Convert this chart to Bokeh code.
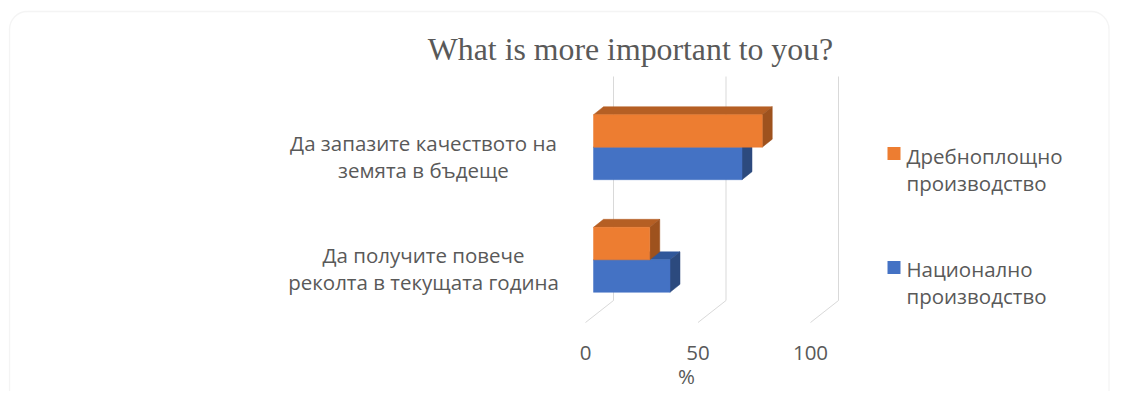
from bokeh.plotting import figure
from bokeh.models import Range1d, BoxAnnotation
from bokeh.core.properties import value
from bokeh.embed import file_html
from bokeh.resources import INLINE

# ---------------- data ----------------
categories = ["Да получите повече\nреколта в текущата година",
              "Да запазите качеството на\nземята в бъдеще"]
national = [34, 66]          # Национално производство (blue)
small_scale = [25, 75]       # Дребноплощно производство (orange)
series_names = ["Дребноплощно\nпроизводство", "Национално\nпроизводство"]
x_ticks = [0, 50, 100]
tick_labels = ["0", "50", "100"]
title_text = "What is more important to you?"
axis_title = "%"

# ---------------- style / geometry ----------------
TXT = "#595959"
GRID = "#D9D9D9"
ORANGE = ("#ED7D31", "#B55F24", "#9E521E")   # front, top, side
BLUE = ("#4472C4", "#30579A", "#2C4A7E")
FONT = value("Open Sans")
FS = "20.5px"
LH = 0.97

PX_X = 2.25      # px per unit on x
PX_Y = 112.6     # px per category step
X0_PX, Y0_PX = 585, 259.3   # pixel position of x=0 (floor front) and category 0
BAR_H = 32.5 / PX_Y
DX, DY = 10 / PX_X, 8 / PX_Y          # bar depth projection
FX = 8 / PX_X                          # bar front plane offset from floor front
WALL_DX, WALL_DY = 28 / PX_X, 22 / PX_Y
FLOOR_Y = (Y0_PX - 322) / PX_Y
WALL_TOP = (Y0_PX - 76) / PX_Y


def px(xp):
    return (xp - X0_PX) / PX_X


def py(yp):
    return (Y0_PX - yp) / PX_Y


W, H = 1110, 391
p = figure(width=W, height=H, output_backend="svg", toolbar_location=None,
           x_range=Range1d(px(0), px(W)), y_range=Range1d(py(H), py(0)),
           x_axis_location=None, y_axis_location=None, min_border=0,
           outline_line_color=None)
p.grid.visible = False

# rounded chart border
p.add_layout(BoxAnnotation(left=px(9), right=px(1108.5), top=py(11), bottom=py(430),
                           fill_color=None, line_color=GRID, line_width=1.3,
                           border_radius=18))

# back wall gridlines + floor diagonals
gx = [t + WALL_DX for t in x_ticks]
p.segment(x0=gx, y0=[FLOOR_Y + WALL_DY] * len(gx), x1=gx, y1=[WALL_TOP] * len(gx),
          line_color=GRID, line_width=1)
p.segment(x0=x_ticks, y0=[FLOOR_Y] * len(x_ticks), x1=gx, y1=[FLOOR_Y + WALL_DY] * len(gx),
          line_color=GRID, line_width=1)


def bars3d(vals, lower, colors):
    front, top, side = colors
    xs_top, ys_top, xs_side, ys_side = [], [], [], []
    lefts, rights, bottoms, tops = [], [], [], []
    for i, v in enumerate(vals):
        b = i - BAR_H if lower else i
        t = b + BAR_H
        l, r = FX, FX + v
        lefts.append(l); rights.append(r); bottoms.append(b); tops.append(t)
        xs_top.append([l, r, r + DX, l + DX]); ys_top.append([t, t, t + DY, t + DY])
        xs_side.append([r, r + DX, r + DX, r]); ys_side.append([b, b + DY, t + DY, t])
    p.patches(xs_top, ys_top, fill_color=top, line_color=top, line_width=0.5)
    p.patches(xs_side, ys_side, fill_color=side, line_color=side, line_width=0.5)
    p.quad(left=lefts, right=rights, bottom=bottoms, top=tops,
           fill_color=front, line_color=front, line_width=0.5)


bars3d(national, True, BLUE)
bars3d(small_scale, False, ORANGE)

# category labels
p.text(x=[px(423)] * len(categories), y=[i - 9 / PX_Y for i in range(len(categories))],
       text=categories, text_align="center", text_baseline="middle",
       text_font=FONT, text_font_size=FS, text_color=TXT, text_line_height=LH)

# x tick labels and axis title
p.text(x=x_ticks, y=[py(352)] * len(x_ticks), text=tick_labels,
       text_align="center", text_baseline="middle", text_font=FONT,
       text_font_size=FS, text_color=TXT)
p.text(x=[px(686)], y=[py(375.5)], text=[axis_title],
       text_align="center", text_baseline="middle", text_font=FONT,
       text_font_size=FS, text_color=TXT)

# title
p.text(x=[px(630)], y=[py(49)], text=[title_text],
       text_align="center", text_baseline="middle", text_font=value("Liberation Serif"),
       text_font_size="31.8px", text_color=TXT)

# legend
leg_colors = [ORANGE[0], BLUE[0]]
p.scatter(x=[px(893.5)] * 2, y=[py(153), py(267)], marker="square", size=13,
          fill_color=leg_colors, line_color=None)
p.text(x=[px(906)] * 2, y=[py(169), py(282)], text=series_names,
       text_align="left", text_baseline="middle", text_font=FONT,
       text_font_size=FS, text_color=TXT, text_line_height=LH)

open("out.html", "w").write(file_html(p, INLINE))
